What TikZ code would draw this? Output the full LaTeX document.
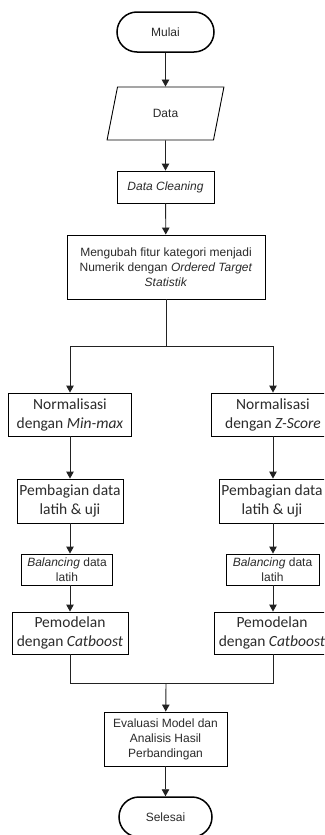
\documentclass[tikz,border=0pt]{standalone}
\usepackage{fontspec}
\setmainfont{Liberation Sans}
\newfontfamily\calfont{Carlito}
\usetikzlibrary{arrows.meta,shapes.geometric}
\definecolor{txt}{HTML}{2B2B2B}
\definecolor{ln}{HTML}{222222}
\begin{document}
\begin{tikzpicture}[x=1pt,y=-1pt,
  every node/.style={text=txt, inner sep=1pt},
  arial/.style={font=\fontsize{12}{15}\selectfont},
  calib/.style={font=\calfont\fontsize{15.5}{19}\selectfont},
  term/.style={draw=black, line width=1.5pt, rounded corners=20pt, arial},
  box/.style={draw=black, line width=0.9pt, align=center},
  conn/.style={draw=ln, line width=0.9pt},
  arr/.style={conn, -{Triangle[length=7pt,width=7.5pt]}}
]
\clip (0,0) rectangle (324,835);
\fill[white] (0,0) rectangle (324,835);

\node[term, minimum width=97pt, minimum height=40pt] (mulai) at (165.5,32) {Mulai};
\node[draw=black, line width=0.9pt, trapezium, trapezium left angle=74, trapezium right angle=106,
      trapezium stretches=true, minimum width=117pt, minimum height=53pt, arial] (data) at (165.5,113.5) {Data};
\node[box, arial, minimum width=97pt, minimum height=32pt] (clean) at (165.5,187) {\textit{Data Cleaning}};
\node[box, arial, minimum width=198pt, minimum height=64pt] (ubah) at (166,267)
  {Mengubah fitur kategori menjadi\\Numerik dengan \textit{Ordered Target}\\\textit{Statistik}};

\coordinate (split) at (166,346);
\coordinate (splitL) at (70,346);
\coordinate (splitR) at (273,346);

\node[box, calib, minimum width=123pt, minimum height=43pt] (norm1) at (70,414.5) {Normalisasi\\dengan \textit{Min-max}};
\node[box, calib, minimum width=123pt, minimum height=43pt] (norm2) at (273,414.5) {Normalisasi\\dengan \textit{Z-Score}};

\node[box, calib, minimum width=106pt, minimum height=44pt] (bagi1) at (70,501) {Pembagian data\\latih \& uji};
\node[box, calib, minimum width=106pt, minimum height=44pt] (bagi2) at (272,501) {Pembagian data\\latih \& uji};

\node[box, arial, minimum width=91pt, minimum height=31pt] (bal1) at (67,569.5) {\textit{Balancing} data\\latih};
\node[box, arial, minimum width=93pt, minimum height=31pt] (bal2) at (272.5,569.5) {\textit{Balancing} data\\latih};

\node[box, calib, minimum width=116pt, minimum height=42pt] (model1) at (70,633) {Pemodelan\\dengan \textit{Catboost}};
\node[box, calib, minimum width=116pt, minimum height=42pt] (model2) at (272,633) {Pemodelan\\dengan \textit{Catboost}};

\coordinate (mergeL) at (70,683);
\coordinate (mergeR) at (273,683);
\coordinate (merge) at (166,683);

\node[box, arial, minimum width=123pt, minimum height=54pt] (eval) at (165.5,739) {Evaluasi Model dan\\Analisis Hasil\\Perbandingan};
\node[term, minimum width=93pt, minimum height=40pt] (selesai) at (165.5,817) {Selesai};

\draw[arr] (mulai) -- (data);
\draw[arr] (data) -- (clean);
\draw[arr] (clean) -- (ubah);
\draw[conn] (ubah.south) -- (split);
\draw[conn] (splitL) -- (splitR);
\draw[arr] (splitL) -- (splitL |- norm1.north);
\draw[arr] (splitR) -- (splitR |- norm2.north);
\draw[arr] (norm1.south -| splitL) -- (splitL |- bagi1.north);
\draw[arr] (norm2.south -| splitR) -- (splitR |- bagi2.north);
\draw[arr] (bagi1.south -| splitL) -- (splitL |- bal1.north);
\draw[arr] (bagi2.south -| splitR) -- (splitR |- bal2.north);
\draw[arr] (bal1.south -| splitL) -- (splitL |- model1.north);
\draw[arr] (bal2.south -| splitR) -- (splitR |- model2.north);
\draw[conn] (model1.south -| mergeL) -- (mergeL) -- (mergeR) -- (model2.south -| mergeR);
\draw[arr] (merge) -- (eval);
\draw[arr] (eval) -- (selesai);
\end{tikzpicture}
\end{document}
